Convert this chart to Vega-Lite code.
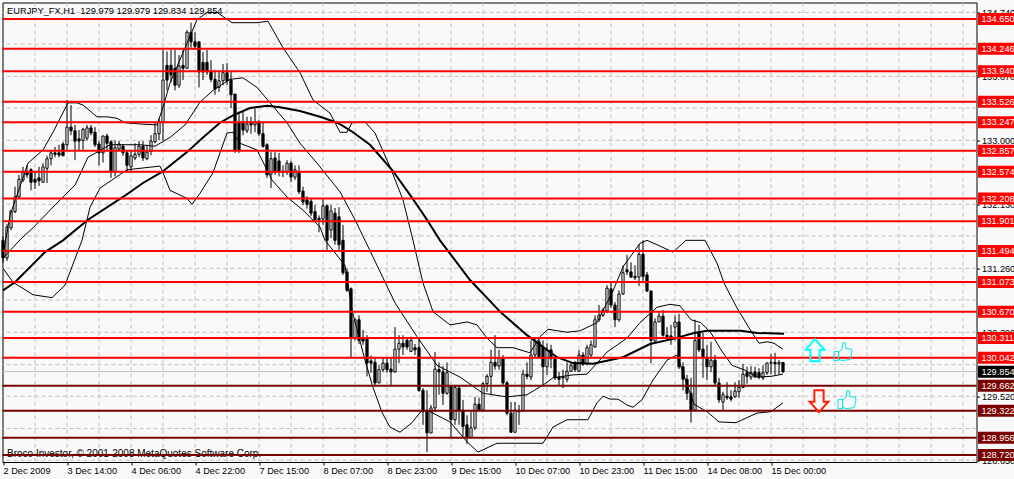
{
"$schema":"https://vega.github.io/schema/vega-lite/v6.json",
"autosize":{"type":"none"},
"padding":{"left":2.5,"top":2.5,"right":37.5,"bottom":17},
"width":974,
"height":459.5,
"background":"#f9f9f9",
"view":{"stroke":"#000000","strokeWidth":1},
"config":{"font":"Liberation Sans","axis":{"title":null,"domain":false,"grid":false,"labelFont":"Liberation Sans","labelFontSize":9.2,"labelColor":"#000000","tickColor":"#000000"}},
"datasets":{
"candles":[
{"i":0,"o":131.64,"h":131.70,"l":131.34,"c":131.40},
{"i":1,"o":131.40,"h":131.86,"l":131.36,"c":131.82},
{"i":2,"o":131.81,"h":132.05,"l":131.78,"c":132.04},
{"i":3,"o":132.03,"h":132.37,"l":132.01,"c":132.23},
{"i":4,"o":132.23,"h":132.53,"l":132.21,"c":132.47},
{"i":5,"o":132.46,"h":132.64,"l":132.43,"c":132.56},
{"i":6,"o":132.56,"h":132.66,"l":132.49,"c":132.53},
{"i":7,"o":132.60,"h":132.62,"l":132.32,"c":132.43},
{"i":8,"o":132.47,"h":132.57,"l":132.34,"c":132.43},
{"i":9,"o":132.49,"h":132.64,"l":132.38,"c":132.45},
{"i":10,"o":132.43,"h":132.69,"l":132.43,"c":132.64},
{"i":11,"o":132.62,"h":132.79,"l":132.42,"c":132.75},
{"i":12,"o":132.75,"h":132.87,"l":132.66,"c":132.83},
{"i":13,"o":132.83,"h":132.91,"l":132.77,"c":132.81},
{"i":14,"o":132.83,"h":132.94,"l":132.77,"c":132.80},
{"i":15,"o":132.95,"h":132.98,"l":132.79,"c":132.79},
{"i":16,"o":132.94,"h":133.55,"l":132.87,"c":133.18},
{"i":17,"o":133.18,"h":133.48,"l":133.07,"c":133.13},
{"i":18,"o":133.13,"h":133.21,"l":132.73,"c":132.99},
{"i":19,"o":133.02,"h":133.14,"l":132.87,"c":132.99},
{"i":20,"o":133.00,"h":133.17,"l":132.87,"c":133.15},
{"i":21,"o":133.03,"h":133.21,"l":133.00,"c":133.17},
{"i":22,"o":133.17,"h":133.21,"l":133.07,"c":133.10},
{"i":23,"o":133.11,"h":133.18,"l":132.91,"c":132.94},
{"i":24,"o":132.95,"h":132.99,"l":132.66,"c":132.83},
{"i":25,"o":132.83,"h":133.06,"l":132.70,"c":133.06},
{"i":26,"o":133.06,"h":133.09,"l":132.87,"c":132.96},
{"i":27,"o":132.98,"h":133.00,"l":132.49,"c":132.57},
{"i":28,"o":132.57,"h":133.00,"l":132.51,"c":132.90},
{"i":29,"o":132.88,"h":132.99,"l":132.87,"c":132.95},
{"i":30,"o":132.92,"h":132.95,"l":132.79,"c":132.83},
{"i":31,"o":132.83,"h":132.87,"l":132.57,"c":132.66},
{"i":32,"o":132.64,"h":132.87,"l":132.57,"c":132.79},
{"i":33,"o":132.76,"h":132.96,"l":132.73,"c":132.81},
{"i":34,"o":132.81,"h":132.99,"l":132.77,"c":132.92},
{"i":35,"o":132.92,"h":132.99,"l":132.72,"c":132.76},
{"i":36,"o":132.75,"h":132.94,"l":132.73,"c":132.84},
{"i":37,"o":132.85,"h":133.07,"l":132.80,"c":132.99},
{"i":38,"o":132.98,"h":133.24,"l":132.96,"c":133.09},
{"i":39,"o":133.09,"h":133.30,"l":133.00,"c":133.26},
{"i":40,"o":133.25,"h":134.23,"l":133.00,"c":133.82},
{"i":41,"o":134.02,"h":134.21,"l":133.68,"c":133.82},
{"i":42,"o":134.02,"h":134.23,"l":133.79,"c":133.89},
{"i":43,"o":133.98,"h":134.23,"l":133.68,"c":133.75},
{"i":44,"o":133.75,"h":134.16,"l":133.71,"c":134.01},
{"i":45,"o":134.02,"h":134.23,"l":133.82,"c":133.98},
{"i":46,"o":133.98,"h":134.50,"l":133.98,"c":134.47},
{"i":47,"o":134.47,"h":134.60,"l":134.26,"c":134.34},
{"i":48,"o":134.34,"h":134.47,"l":134.23,"c":134.28},
{"i":49,"o":134.34,"h":134.34,"l":133.72,"c":133.93},
{"i":50,"o":134.06,"h":134.20,"l":133.82,"c":133.93},
{"i":51,"o":134.06,"h":134.23,"l":133.89,"c":133.93},
{"i":52,"o":133.94,"h":134.09,"l":133.79,"c":133.83},
{"i":53,"o":133.83,"h":133.96,"l":133.62,"c":133.70},
{"i":54,"o":133.72,"h":133.93,"l":133.66,"c":133.81},
{"i":55,"o":133.81,"h":134.04,"l":133.75,"c":133.92},
{"i":56,"o":133.92,"h":134.05,"l":133.75,"c":133.81},
{"i":57,"o":133.82,"h":133.93,"l":133.44,"c":133.62},
{"i":58,"o":133.63,"h":133.63,"l":132.83,"c":132.87},
{"i":59,"o":133.25,"h":133.39,"l":132.83,"c":132.87},
{"i":60,"o":133.25,"h":133.41,"l":133.07,"c":133.14},
{"i":61,"o":133.13,"h":133.32,"l":133.10,"c":133.22},
{"i":62,"o":133.24,"h":133.32,"l":133.09,"c":133.21},
{"i":63,"o":133.21,"h":133.43,"l":133.11,"c":133.24},
{"i":64,"o":133.24,"h":133.28,"l":133.06,"c":133.09},
{"i":65,"o":133.09,"h":133.24,"l":132.90,"c":132.92},
{"i":66,"o":132.94,"h":132.96,"l":132.49,"c":132.53},
{"i":67,"o":132.54,"h":132.84,"l":132.35,"c":132.75},
{"i":68,"o":132.76,"h":132.84,"l":132.53,"c":132.57},
{"i":69,"o":132.72,"h":132.83,"l":132.51,"c":132.58},
{"i":70,"o":132.58,"h":132.66,"l":132.50,"c":132.57},
{"i":71,"o":132.57,"h":132.73,"l":132.53,"c":132.69},
{"i":72,"o":132.69,"h":132.72,"l":132.43,"c":132.50},
{"i":73,"o":132.50,"h":132.66,"l":132.46,"c":132.60},
{"i":74,"o":132.56,"h":132.66,"l":132.27,"c":132.30},
{"i":75,"o":132.31,"h":132.37,"l":132.12,"c":132.16},
{"i":76,"o":132.19,"h":132.24,"l":132.07,"c":132.13},
{"i":77,"o":132.17,"h":132.21,"l":131.97,"c":132.01},
{"i":78,"o":132.03,"h":132.12,"l":131.89,"c":131.92},
{"i":79,"o":131.94,"h":131.98,"l":131.75,"c":131.92},
{"i":80,"o":131.93,"h":132.21,"l":131.85,"c":132.11},
{"i":81,"o":132.11,"h":132.13,"l":131.51,"c":131.64},
{"i":82,"o":131.78,"h":132.12,"l":131.67,"c":132.04},
{"i":83,"o":132.01,"h":132.08,"l":131.58,"c":131.64},
{"i":84,"o":131.96,"h":132.09,"l":131.51,"c":131.58},
{"i":85,"o":131.64,"h":131.85,"l":131.17,"c":131.20},
{"i":86,"o":131.21,"h":131.26,"l":130.94,"c":130.96},
{"i":87,"o":130.98,"h":131.00,"l":130.05,"c":130.31},
{"i":88,"o":130.31,"h":130.58,"l":130.28,"c":130.56},
{"i":89,"o":130.56,"h":130.62,"l":130.23,"c":130.28},
{"i":90,"o":130.31,"h":130.42,"l":130.22,"c":130.27},
{"i":91,"o":130.30,"h":130.35,"l":129.79,"c":129.97},
{"i":92,"o":130.00,"h":130.07,"l":129.84,"c":129.97},
{"i":93,"o":129.98,"h":130.05,"l":129.67,"c":129.70},
{"i":94,"o":129.70,"h":129.94,"l":129.70,"c":129.88},
{"i":95,"o":129.88,"h":130.04,"l":129.85,"c":129.97},
{"i":96,"o":129.97,"h":130.05,"l":129.84,"c":129.88},
{"i":97,"o":129.89,"h":130.04,"l":129.66,"c":129.85},
{"i":98,"o":129.85,"h":130.46,"l":129.84,"c":130.16},
{"i":99,"o":130.16,"h":130.35,"l":129.97,"c":130.24},
{"i":100,"o":130.24,"h":130.35,"l":130.08,"c":130.19},
{"i":101,"o":130.28,"h":130.31,"l":130.15,"c":130.19},
{"i":102,"o":130.13,"h":130.33,"l":130.12,"c":130.28},
{"i":103,"o":130.18,"h":130.23,"l":130.08,"c":130.15},
{"i":104,"o":130.18,"h":130.31,"l":129.58,"c":129.60},
{"i":105,"o":129.60,"h":129.63,"l":129.13,"c":129.31},
{"i":106,"o":129.33,"h":129.60,"l":128.76,"c":129.02},
{"i":107,"o":129.02,"h":129.40,"l":129.02,"c":129.36},
{"i":108,"o":129.36,"h":130.12,"l":129.31,"c":129.89},
{"i":109,"o":129.88,"h":129.98,"l":129.54,"c":129.85},
{"i":110,"o":129.85,"h":129.93,"l":129.40,"c":129.56},
{"i":111,"o":129.56,"h":129.98,"l":129.54,"c":129.84},
{"i":112,"o":129.66,"h":129.67,"l":128.96,"c":129.20},
{"i":113,"o":129.20,"h":129.67,"l":129.13,"c":129.64},
{"i":114,"o":129.63,"h":129.66,"l":129.13,"c":129.33},
{"i":115,"o":129.33,"h":129.47,"l":128.96,"c":129.11},
{"i":116,"o":129.13,"h":129.26,"l":128.87,"c":128.96},
{"i":117,"o":128.96,"h":129.31,"l":128.96,"c":129.09},
{"i":118,"o":129.09,"h":129.51,"l":129.06,"c":129.41},
{"i":119,"o":129.41,"h":129.50,"l":129.31,"c":129.33},
{"i":120,"o":129.33,"h":129.71,"l":129.31,"c":129.69},
{"i":121,"o":129.69,"h":129.82,"l":129.58,"c":129.79},
{"i":122,"o":129.79,"h":130.15,"l":129.54,"c":129.98},
{"i":123,"o":129.98,"h":130.35,"l":129.88,"c":129.93},
{"i":124,"o":129.93,"h":130.15,"l":129.88,"c":130.04},
{"i":125,"o":130.03,"h":130.08,"l":129.67,"c":129.70},
{"i":126,"o":129.70,"h":129.73,"l":129.26,"c":129.29},
{"i":127,"o":129.29,"h":129.44,"l":129.02,"c":129.03},
{"i":128,"o":129.03,"h":129.44,"l":129.02,"c":129.33},
{"i":129,"o":129.33,"h":129.40,"l":129.13,"c":129.31},
{"i":130,"o":129.32,"h":129.88,"l":129.31,"c":129.82},
{"i":131,"o":129.82,"h":129.98,"l":129.75,"c":129.79},
{"i":132,"o":129.78,"h":130.28,"l":129.74,"c":130.08},
{"i":133,"o":130.08,"h":130.31,"l":130.04,"c":130.26},
{"i":134,"o":130.26,"h":130.31,"l":130.04,"c":130.05},
{"i":135,"o":130.19,"h":130.28,"l":129.67,"c":129.92},
{"i":136,"o":129.92,"h":130.24,"l":129.81,"c":130.15},
{"i":137,"o":130.15,"h":130.22,"l":129.90,"c":130.03},
{"i":138,"o":130.03,"h":130.08,"l":129.74,"c":129.77},
{"i":139,"o":129.78,"h":129.85,"l":129.66,"c":129.75},
{"i":140,"o":129.78,"h":129.88,"l":129.63,"c":129.77},
{"i":141,"o":129.75,"h":129.98,"l":129.71,"c":129.86},
{"i":142,"o":129.86,"h":129.98,"l":129.85,"c":129.94},
{"i":143,"o":129.96,"h":130.00,"l":129.85,"c":129.88},
{"i":144,"o":129.86,"h":130.15,"l":129.85,"c":130.08},
{"i":145,"o":130.08,"h":130.12,"l":129.93,"c":129.96},
{"i":146,"o":129.96,"h":130.22,"l":129.94,"c":130.18},
{"i":147,"o":130.08,"h":130.28,"l":130.05,"c":130.22},
{"i":148,"o":130.19,"h":130.62,"l":130.18,"c":130.56},
{"i":149,"o":130.56,"h":130.76,"l":130.53,"c":130.62},
{"i":150,"o":130.62,"h":130.72,"l":130.60,"c":130.69},
{"i":151,"o":130.68,"h":131.03,"l":130.65,"c":130.99},
{"i":152,"o":130.98,"h":131.07,"l":130.72,"c":130.76},
{"i":153,"o":130.76,"h":130.80,"l":130.46,"c":130.56},
{"i":154,"o":130.56,"h":130.96,"l":130.53,"c":130.91},
{"i":155,"o":130.91,"h":131.30,"l":130.90,"c":131.20},
{"i":156,"o":131.24,"h":131.44,"l":131.17,"c":131.21},
{"i":157,"o":131.21,"h":131.34,"l":131.13,"c":131.14},
{"i":158,"o":131.15,"h":131.30,"l":131.10,"c":131.13},
{"i":159,"o":131.14,"h":131.59,"l":131.02,"c":131.45},
{"i":160,"o":131.45,"h":131.64,"l":131.06,"c":131.15},
{"i":161,"o":131.17,"h":131.21,"l":130.94,"c":130.95},
{"i":162,"o":130.95,"h":130.96,"l":129.97,"c":130.28},
{"i":163,"o":130.27,"h":130.58,"l":130.26,"c":130.53},
{"i":164,"o":130.53,"h":130.66,"l":130.53,"c":130.61},
{"i":165,"o":130.61,"h":130.69,"l":130.33,"c":130.35},
{"i":166,"o":130.35,"h":130.46,"l":130.28,"c":130.33},
{"i":167,"o":130.34,"h":130.49,"l":130.22,"c":130.31},
{"i":168,"o":130.46,"h":130.62,"l":130.28,"c":130.53},
{"i":169,"o":130.53,"h":130.64,"l":129.89,"c":129.92},
{"i":170,"o":129.92,"h":129.98,"l":129.60,"c":129.75},
{"i":171,"o":129.75,"h":129.81,"l":129.47,"c":129.56},
{"i":172,"o":129.56,"h":129.77,"l":129.16,"c":129.33},
{"i":173,"o":129.33,"h":130.56,"l":129.33,"c":130.28},
{"i":174,"o":130.38,"h":130.49,"l":130.12,"c":130.15},
{"i":175,"o":130.16,"h":130.38,"l":129.77,"c":130.05},
{"i":176,"o":130.05,"h":130.22,"l":129.74,"c":129.92},
{"i":177,"o":129.92,"h":130.26,"l":129.85,"c":130.01},
{"i":178,"o":130.01,"h":130.08,"l":129.67,"c":129.70},
{"i":179,"o":129.70,"h":129.77,"l":129.43,"c":129.47},
{"i":180,"o":129.44,"h":129.58,"l":129.33,"c":129.54},
{"i":181,"o":129.52,"h":129.71,"l":129.47,"c":129.50},
{"i":182,"o":129.51,"h":129.60,"l":129.45,"c":129.48},
{"i":183,"o":129.51,"h":129.71,"l":129.50,"c":129.59},
{"i":184,"o":129.58,"h":129.74,"l":129.50,"c":129.64},
{"i":185,"o":129.64,"h":129.96,"l":129.63,"c":129.82},
{"i":186,"o":129.84,"h":129.92,"l":129.69,"c":129.79},
{"i":187,"o":129.78,"h":129.93,"l":129.74,"c":129.84},
{"i":188,"o":129.85,"h":129.92,"l":129.77,"c":129.78},
{"i":189,"o":129.84,"h":129.90,"l":129.75,"c":129.78},
{"i":190,"o":129.77,"h":129.94,"l":129.74,"c":129.84},
{"i":191,"o":129.84,"h":129.98,"l":129.81,"c":129.97},
{"i":192,"o":129.97,"h":130.09,"l":129.82,"c":129.98},
{"i":193,"o":129.98,"h":130.11,"l":129.81,"c":129.96},
{"i":194,"o":129.96,"h":130.01,"l":129.81,"c":129.98},
{"i":195,"o":129.979,"h":129.979,"l":129.834,"c":129.854}
],
"ma":[
{"i":0,"p":130.96},{"i":3,"p":131.07},{"i":10.5,"p":131.48},{"i":15,"p":131.64},{"i":21.25,"p":131.92},{"i":30,"p":132.23},{"i":35,"p":132.42},{"i":39.75,"p":132.57},{"i":46,"p":132.84},{"i":50,"p":133.04},{"i":54.25,"p":133.24},{"i":57.5,"p":133.34},{"i":61.75,"p":133.44},{"i":66,"p":133.47},{"i":69.25,"p":133.45},{"i":74.25,"p":133.40},{"i":79.25,"p":133.32},{"i":82.5,"p":133.26},{"i":84.25,"p":133.22},{"i":87.5,"p":133.11},{"i":91.75,"p":132.94},{"i":97.25,"p":132.60},{"i":102.25,"p":132.22},{"i":106,"p":131.92},{"i":109.25,"p":131.64},{"i":116.75,"p":131.10},{"i":124.25,"p":130.67},{"i":131,"p":130.35},{"i":138.5,"p":130.05},{"i":142.5,"p":129.97},{"i":147.5,"p":129.96},{"i":155,"p":130.05},{"i":161.75,"p":130.23},{"i":167.5,"p":130.30},{"i":169.5,"p":130.33},{"i":172.75,"p":130.38},{"i":176,"p":130.41},{"i":179,"p":130.41},{"i":184.5,"p":130.41},{"i":188.5,"p":130.38},{"i":195.25,"p":130.37}
],
"bands":[
{"s":"upper","i":0,"p":131.44},{"s":"upper","i":1.75,"p":131.98},{"s":"upper","i":6.25,"p":132.69},{"s":"upper","i":10,"p":132.87},{"s":"upper","i":12.5,"p":133.11},{"s":"upper","i":16.25,"p":133.51},{"s":"upper","i":18.5,"p":133.51},{"s":"upper","i":20,"p":133.48},{"s":"upper","i":23.5,"p":133.32},{"s":"upper","i":26,"p":133.32},{"s":"upper","i":28.5,"p":133.30},{"s":"upper","i":30.5,"p":133.24},{"s":"upper","i":35,"p":133.22},{"s":"upper","i":38.5,"p":133.21},{"s":"upper","i":40,"p":133.45},{"s":"upper","i":41.75,"p":133.78},{"s":"upper","i":46,"p":134.32},{"s":"upper","i":48.5,"p":134.64},{"s":"upper","i":51,"p":134.74},{"s":"upper","i":53.5,"p":134.74},{"s":"upper","i":57.25,"p":134.60},{"s":"upper","i":63.5,"p":134.60},{"s":"upper","i":66.25,"p":134.62},{"s":"upper","i":70,"p":134.26},{"s":"upper","i":74.25,"p":133.92},{"s":"upper","i":77.5,"p":133.55},{"s":"upper","i":81.75,"p":133.37},{"s":"upper","i":84.25,"p":133.11},{"s":"upper","i":86,"p":133.11},{"s":"upper","i":87.25,"p":133.24},{"s":"upper","i":90.5,"p":133.25},{"s":"upper","i":93,"p":133.10},{"s":"upper","i":96.75,"p":132.64},{"s":"upper","i":100,"p":132.19},{"s":"upper","i":102.5,"p":131.64},{"s":"upper","i":105,"p":131.06},{"s":"upper","i":107.5,"p":130.67},{"s":"upper","i":111.75,"p":130.49},{"s":"upper","i":116,"p":130.53},{"s":"upper","i":118.5,"p":130.49},{"s":"upper","i":121,"p":130.31},{"s":"upper","i":123.5,"p":130.18},{"s":"upper","i":127.5,"p":130.18},{"s":"upper","i":131.75,"p":130.11},{"s":"upper","i":134.25,"p":130.33},{"s":"upper","i":136.25,"p":130.43},{"s":"upper","i":141,"p":130.39},{"s":"upper","i":144.25,"p":130.41},{"s":"upper","i":148.5,"p":130.52},{"s":"upper","i":150,"p":130.69},{"s":"upper","i":152.25,"p":130.92},{"s":"upper","i":155,"p":131.28},{"s":"upper","i":159.25,"p":131.60},{"s":"upper","i":161,"p":131.64},{"s":"upper","i":163.5,"p":131.58},{"s":"upper","i":167.5,"p":131.48},{"s":"upper","i":170.75,"p":131.64},{"s":"upper","i":175.5,"p":131.64},{"s":"upper","i":178.5,"p":131.33},{"s":"upper","i":180.25,"p":131.06},{"s":"upper","i":183.5,"p":130.72},{"s":"upper","i":186.5,"p":130.45},{"s":"upper","i":189,"p":130.24},{"s":"upper","i":191,"p":130.26},{"s":"upper","i":192.75,"p":130.24},{"s":"upper","i":195,"p":130.16},
{"s":"middle","i":0,"p":131.40},{"s":"middle","i":4.5,"p":131.66},{"s":"middle","i":7.5,"p":131.81},{"s":"middle","i":14.25,"p":132.19},{"s":"middle","i":18,"p":132.39},{"s":"middle","i":21.25,"p":132.77},{"s":"middle","i":26.75,"p":132.94},{"s":"middle","i":34.25,"p":132.94},{"s":"middle","i":38,"p":132.92},{"s":"middle","i":41.75,"p":133.04},{"s":"middle","i":45.5,"p":133.21},{"s":"middle","i":49.25,"p":133.52},{"s":"middle","i":52.5,"p":133.68},{"s":"middle","i":56.75,"p":133.83},{"s":"middle","i":60,"p":133.85},{"s":"middle","i":63.5,"p":133.72},{"s":"middle","i":67.25,"p":133.48},{"s":"middle","i":71,"p":133.24},{"s":"middle","i":74.25,"p":132.96},{"s":"middle","i":78.5,"p":132.69},{"s":"middle","i":84.25,"p":132.30},{"s":"middle","i":88,"p":131.92},{"s":"middle","i":90.5,"p":131.64},{"s":"middle","i":98,"p":130.79},{"s":"middle","i":103.5,"p":130.33},{"s":"middle","i":108.5,"p":129.94},{"s":"middle","i":114.25,"p":129.78},{"s":"middle","i":120,"p":129.56},{"s":"middle","i":126,"p":129.51},{"s":"middle","i":131,"p":129.54},{"s":"middle","i":135,"p":129.67},{"s":"middle","i":137.5,"p":129.77},{"s":"middle","i":142.5,"p":129.81},{"s":"middle","i":146,"p":129.82},{"s":"middle","i":148,"p":129.94},{"s":"middle","i":151,"p":130.12},{"s":"middle","i":156,"p":130.31},{"s":"middle","i":159.25,"p":130.52},{"s":"middle","i":163.5,"p":130.73},{"s":"middle","i":166.75,"p":130.77},{"s":"middle","i":169.25,"p":130.75},{"s":"middle","i":172,"p":130.56},{"s":"middle","i":174.5,"p":130.52},{"s":"middle","i":177,"p":130.38},{"s":"middle","i":179.5,"p":130.15},{"s":"middle","i":182.25,"p":129.94},{"s":"middle","i":185.25,"p":129.88},{"s":"middle","i":188.5,"p":129.78},{"s":"middle","i":192,"p":129.79},{"s":"middle","i":195,"p":129.82},
{"s":"lower","i":0,"p":131.26},{"s":"lower","i":2.5,"p":131.07},{"s":"lower","i":7.5,"p":130.90},{"s":"lower","i":12.25,"p":130.86},{"s":"lower","i":15.5,"p":131.03},{"s":"lower","i":19.75,"p":131.64},{"s":"lower","i":21.75,"p":132.09},{"s":"lower","i":24.25,"p":132.35},{"s":"lower","i":31,"p":132.60},{"s":"lower","i":39.25,"p":132.65},{"s":"lower","i":40,"p":132.56},{"s":"lower","i":41.75,"p":132.32},{"s":"lower","i":46,"p":132.21},{"s":"lower","i":47.25,"p":132.13},{"s":"lower","i":49.25,"p":132.28},{"s":"lower","i":52.5,"p":132.56},{"s":"lower","i":56,"p":133.10},{"s":"lower","i":57.5,"p":133.11},{"s":"lower","i":59.25,"p":132.96},{"s":"lower","i":63.5,"p":132.87},{"s":"lower","i":67.25,"p":132.46},{"s":"lower","i":71,"p":132.23},{"s":"lower","i":75,"p":132.05},{"s":"lower","i":79.25,"p":131.82},{"s":"lower","i":80.5,"p":131.64},{"s":"lower","i":85.5,"p":131.30},{"s":"lower","i":87.25,"p":130.69},{"s":"lower","i":90.5,"p":130.01},{"s":"lower","i":92.5,"p":129.64},{"s":"lower","i":94.75,"p":129.30},{"s":"lower","i":96.75,"p":129.10},{"s":"lower","i":99.25,"p":129.03},{"s":"lower","i":102.25,"p":129.16},{"s":"lower","i":104.75,"p":129.33},{"s":"lower","i":106.75,"p":129.31},{"s":"lower","i":111.75,"p":129.17},{"s":"lower","i":116,"p":128.90},{"s":"lower","i":118.75,"p":128.76},{"s":"lower","i":123.5,"p":128.88},{"s":"lower","i":128.5,"p":128.88},{"s":"lower","i":135,"p":128.88},{"s":"lower","i":137.5,"p":129.10},{"s":"lower","i":141,"p":129.20},{"s":"lower","i":146.25,"p":129.20},{"s":"lower","i":148.5,"p":129.43},{"s":"lower","i":150,"p":129.52},{"s":"lower","i":151.75,"p":129.48},{"s":"lower","i":153.75,"p":129.48},{"s":"lower","i":156,"p":129.40},{"s":"lower","i":157.5,"p":129.37},{"s":"lower","i":159.75,"p":129.47},{"s":"lower","i":162.5,"p":129.74},{"s":"lower","i":166,"p":130.01},{"s":"lower","i":168.5,"p":130.08},{"s":"lower","i":169.75,"p":129.88},{"s":"lower","i":172.75,"p":129.41},{"s":"lower","i":176,"p":129.31},{"s":"lower","i":179,"p":129.17},{"s":"lower","i":183.25,"p":129.16},{"s":"lower","i":188.5,"p":129.29},{"s":"lower","i":192,"p":129.31},{"s":"lower","i":195,"p":129.43}
],
"levels":[
{"p":134.65,"kind":"resistance"},{"p":134.246,"kind":"resistance"},{"p":133.94,"kind":"resistance"},{"p":133.526,"kind":"resistance"},{"p":133.247,"kind":"resistance"},{"p":132.857,"kind":"resistance"},{"p":132.574,"kind":"resistance"},{"p":132.208,"kind":"resistance"},{"p":131.901,"kind":"resistance"},{"p":131.494,"kind":"resistance"},{"p":131.073,"kind":"resistance"},{"p":130.67,"kind":"resistance"},{"p":130.311,"kind":"resistance"},{"p":130.042,"kind":"resistance"},{"p":129.662,"kind":"support"},{"p":129.322,"kind":"support"},{"p":128.956,"kind":"support"},{"p":128.72,"kind":"support"},{"p":129.854,"kind":"last"}
],
"gridX":[{"i":8},{"i":16},{"i":24},{"i":32},{"i":40},{"i":48},{"i":56},{"i":64},{"i":72},{"i":80},{"i":88},{"i":96},{"i":104},{"i":112},{"i":120},{"i":128},{"i":136},{"i":144},{"i":152},{"i":160},{"i":168},{"i":176},{"i":184},{"i":192},{"i":200},{"i":208},{"i":216},{"i":224},{"i":232},{"i":240}],
"gridY":[{"p":134.74},{"p":134.31},{"p":133.87},{"p":133.44},{"p":133},{"p":132.57},{"p":132.13},{"p":131.7},{"p":131.26},{"p":130.83},{"p":130.39},{"p":129.95},{"p":129.52},{"p":129.08},{"p":128.65}]
},
"layer":[
{"data":{"name":"gridY"},"mark":{"type":"rule","stroke":"#c0c0c0","strokeWidth":1,"strokeDash":[4,3]},"encoding":{"y":{"field":"p","type":"quantitative","scale":{"domain":[128.625,134.875],"nice":false,"zero":false,"padding":0},
"axis":{"orient":"right","values":[134.74,134.31,133.87,133.44,133,132.57,132.13,131.7,131.26,130.83,130.39,129.95,129.52,129.08,128.65],"format":".3f","labelPadding":2,"tickSize":3,"labelOverlap":false,"labelBound":false,"labelFlush":false}}}},
{"data":{"name":"gridX"},"mark":{"type":"rule","stroke":"#c0c0c0","strokeWidth":1,"strokeDash":[4,3]},"encoding":{"x":{"field":"i","type":"quantitative","scale":{"domain":[-0.125,243.375],"nice":false,"zero":false,"padding":0},
"axis":{"orient":"bottom","values":[0,16,32,48,64,80,96,112,128,144,160,176,192],
"labelExpr":"['2 Dec 2009','3 Dec 14:00','4 Dec 06:00','4 Dec 22:00','7 Dec 15:00','8 Dec 07:00','8 Dec 23:00','9 Dec 15:00','10 Dec 07:00','10 Dec 23:00','11 Dec 15:00','14 Dec 08:00','15 Dec 00:00'][datum.value/16]",
"labelAlign":"left","labelBaseline":"middle","labelPadding":5,"labelOverlap":false,"labelBound":false,"labelFlush":false,"tickSize":3}}}},
{"data":{"name":"levels"},"transform":[{"filter":"datum.kind == 'last'"}],"mark":{"type":"rule","stroke":"#c0c0c0","strokeWidth":1},"encoding":{"y":{"field":"p","type":"quantitative"}}},
{"data":{"name":"candles"},"mark":{"type":"rule","stroke":"#000000","strokeWidth":1},"encoding":{"x":{"field":"i","type":"quantitative"},"y":{"field":"l","type":"quantitative"},"y2":{"field":"h"}}},
{"data":{"name":"candles"},"mark":{"type":"bar","size":2.2,"stroke":"#000000","strokeWidth":1},"encoding":{"x":{"field":"i","type":"quantitative"},"y":{"field":"o","type":"quantitative"},"y2":{"field":"c"},"fill":{"condition":{"test":"datum.c >= datum.o","value":"#ffffff"},"value":"#000000"}}},
{"data":{"name":"bands"},"mark":{"type":"line","stroke":"#000000","strokeWidth":1},"encoding":{"x":{"field":"i","type":"quantitative"},"y":{"field":"p","type":"quantitative"},"detail":{"field":"s"},"order":{"field":"i"}}},
{"data":{"name":"ma"},"mark":{"type":"line","stroke":"#000000","strokeWidth":2},"encoding":{"x":{"field":"i","type":"quantitative"},"y":{"field":"p","type":"quantitative"},"order":{"field":"i"}}},
{"data":{"values":[{"t":"Broco Investor, © 2001-2008 MetaQuotes Software Corp.","i":1,"p":128.73}]},"mark":{"type":"text","align":"left","baseline":"middle","fontSize":10,"color":"#000000"},"encoding":{"x":{"field":"i","type":"quantitative"},"y":{"field":"p","type":"quantitative"},"text":{"field":"t"}}},
{"data":{"name":"levels"},"transform":[{"filter":"datum.kind != 'last'"}],"mark":{"type":"rule","strokeWidth":2},"encoding":{"y":{"field":"p","type":"quantitative"},"color":{"field":"kind","type":"nominal","legend":null,"scale":{"domain":["resistance","support","last"],"range":["#ff0000","#7a0000","#000000"]}}}},
{"data":{"values":[{"t":"EURJPY_FX,H1 \u00a0129.979 129.979 129.834 129,854","i":1,"p":134.76}]},"mark":{"type":"text","align":"left","baseline":"middle","fontSize":9.3,"color":"#000000"},"encoding":{"x":{"field":"i","type":"quantitative"},"y":{"field":"p","type":"quantitative"},"text":{"field":"t"}}},
{"data":{"name":"levels"},"mark":{"type":"rule","strokeWidth":12},"encoding":{"x":{"datum":243.75,"type":"quantitative"},"x2":{"datum":252.75},"y":{"field":"p","type":"quantitative"},"color":{"field":"kind","type":"nominal","legend":null,"scale":{"domain":["resistance","support","last"],"range":["#ff0000","#7a0000","#000000"]}}}},
{"data":{"name":"levels"},"mark":{"type":"text","align":"left","baseline":"middle","fontSize":9.2,"color":"#ffffff"},"encoding":{"x":{"datum":244.6,"type":"quantitative"},"y":{"field":"p","type":"quantitative"},"text":{"field":"p","type":"quantitative","format":".3f"}}},
{"data":{"values":[{"i":203,"p":130.146}]},"mark":{"type":"point","shape":"M0,-1 L0.85,-0.05 L0.42,-0.05 L0.42,1 L-0.42,1 L-0.42,-0.05 L-0.85,-0.05 Z","size":484,"filled":false,"stroke":"#00ffff","strokeWidth":2,"opacity":1},"encoding":{"x":{"field":"i","type":"quantitative"},"y":{"field":"p","type":"quantitative"}}},
{"data":{"values":[{"i":204,"p":129.453}]},"mark":{"type":"point","shape":"M0,1 L0.85,0.05 L0.42,0.05 L0.42,-1 L-0.42,-1 L-0.42,0.05 L-0.85,0.05 Z","size":484,"filled":false,"stroke":"#ff2000","strokeWidth":2,"opacity":1},"encoding":{"x":{"field":"i","type":"quantitative"},"y":{"field":"p","type":"quantitative"}}},
{"data":{"values":[{"i":210,"p":130.12},{"i":211,"p":129.466}]},"mark":{"type":"point","shape":"M-0.9,-0.05 L-0.45,-0.05 L-0.45,0.85 L-0.9,0.85 Z M-0.45,0 L-0.1,-0.3 L0,-0.95 L0.25,-0.9 L0.3,-0.35 L0.85,-0.3 L0.9,0 L0.7,0.75 L-0.1,0.85 L-0.45,0.7","size":400,"filled":false,"stroke":"#00e8e8","strokeWidth":1,"opacity":1},"encoding":{"x":{"field":"i","type":"quantitative"},"y":{"field":"p","type":"quantitative"}}}
]
}
